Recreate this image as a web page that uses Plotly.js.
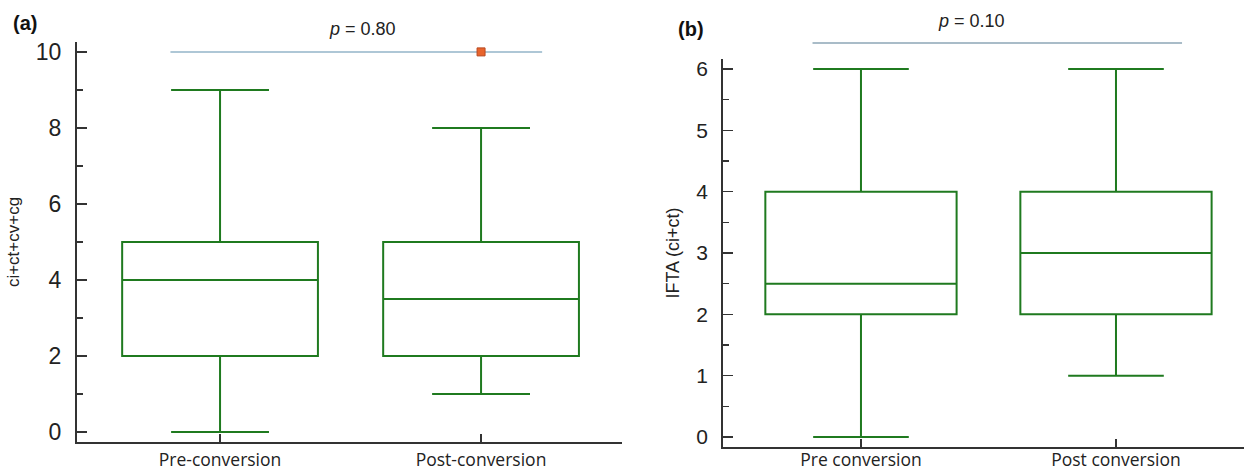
<!DOCTYPE html>
<html>
<head>
<meta charset="utf-8">
<script src="https://cdn.plot.ly/plotly-3.0.1.min.js"></script>
<style>html,body{margin:0;padding:0;background:#fff;}#chart{width:1244px;height:471px;}</style>
</head>
<body>
<div id="chart"></div>
<script>
// Panel (a): ci+ct+cv+cg
const catsA = ['Pre-conversion', 'Post-conversion'];
const minA = [0, 1];
const q1A = [2, 2];
const medA = [4, 3.5];
const q3A = [5, 5];
const maxA = [9, 8];
const outlierCatA = ['Post-conversion'];
const outlierValA = [10];
const pTextA = '<i>p</i> = 0.80';

// Panel (b): IFTA (ci+ct)
const catsB = ['Pre conversion', 'Post conversion'];
const minB = [0, 1];
const q1B = [2, 2];
const medB = [2.5, 3];
const q3B = [4, 4];
const maxB = [6, 6];
const pTextB = '<i>p</i> = 0.10';

const green = '#1f7a1f';
const axisCol = '#333333';
const sans = 'Liberation Sans, Arial, sans-serif';

const boxBase = {
  type: 'box', boxpoints: false, width: 0.75, whiskerwidth: 0.5,
  line: {color: green, width: 2}, fillcolor: 'rgba(0,0,0,0)',
  showlegend: false, hoverinfo: 'skip'
};

const traces = [
  Object.assign({}, boxBase, {x: catsA, q1: q1A, median: medA, q3: q3A,
    lowerfence: minA, upperfence: maxA, xaxis: 'x', yaxis: 'y'}),
  {type: 'scatter', mode: 'markers', x: outlierCatA, y: outlierValA, xaxis: 'x', yaxis: 'y',
    marker: {symbol: 'square', size: 8, color: '#e8642c', line: {color: '#b84a22', width: 1}},
    showlegend: false, cliponaxis: false, hoverinfo: 'skip'},
  Object.assign({}, boxBase, {x: catsB, q1: q1B, median: medB, q3: q3B,
    lowerfence: minB, upperfence: maxB, xaxis: 'x2', yaxis: 'y2'})
];

const xCommon = {
  type: 'category', showline: true, linecolor: axisCol, linewidth: 2,
  ticks: 'inside', ticklen: 8, tickwidth: 1.5, tickcolor: axisCol,
  showgrid: false, zeroline: false,
  tickfont: {family: 'Open Sans, sans-serif', size: 17.5, color: '#222'}
};
const yCommon = {
  showline: true, linecolor: axisCol, linewidth: 2,
  ticks: 'inside', ticklen: 10, tickwidth: 1.5, tickcolor: axisCol,
  showgrid: false, zeroline: false,
  ticklabelstandoff: 9
};

const layout = {
  width: 1244, height: 471,
  margin: {l: 0, r: 0, t: 0, b: 0},
  paper_bgcolor: '#fff', plot_bgcolor: '#fff',
  showlegend: false,
  xaxis: Object.assign({}, xCommon, {domain: [0.0619, 0.5], range: [-0.548, 1.54], anchor: 'y',
    ticklabelstandoff: 1}),
  yaxis: Object.assign({}, yCommon, {domain: [0.0616, 0.9108], range: [-0.26, 10.26], dtick: 2, tick0: 0,
    tickfont: {family: sans, size: 23, color: '#222'},
    minor: {ticks: 'inside', ticklen: 6, dtick: 1, tick0: 0, tickcolor: axisCol, tickwidth: 1.2},
    anchor: 'x',
    title: {text: 'ci+ct+cv+cg', font: {family: sans, size: 17, color: '#222'}, standoff: 12}}),
  xaxis2: Object.assign({}, xCommon, {domain: [0.5812, 1], range: [-0.541, 1.502], anchor: 'y2',
    ticklabelstandoff: -4}),
  yaxis2: Object.assign({}, yCommon, {domain: [0.051, 0.8747], range: [-0.163, 6.163], dtick: 1, tick0: 0,
    tickfont: {family: sans, size: 21, color: '#222'},
    minor: {ticks: 'inside', ticklen: 6, dtick: 0.5, tick0: 0, tickcolor: axisCol, tickwidth: 1.2},
    anchor: 'x2',
    title: {text: 'IFTA (ci+ct)', font: {family: sans, size: 18, color: '#222'}, standoff: 12}}),
  shapes: [
    {type: 'line', xref: 'x', yref: 'y', x0: -0.19, x1: 1.234, y0: 10, y1: 10,
      line: {color: '#93b4c8', width: 1.5}, layer: 'below'},
    {type: 'line', xref: 'x2', yref: 'paper', x0: -0.19, x1: 1.259, y0: 0.9087, y1: 0.9087,
      line: {color: '#a9bcc8', width: 2}}
  ],
  annotations: [
    {text: '<b>(a)</b>', xref: 'paper', yref: 'paper', x: 0.0201, y: 0.951, xanchor: 'center', yanchor: 'middle',
      showarrow: false, font: {family: sans, size: 20, color: '#111'}},
    {text: '<b>(b)</b>', xref: 'paper', yref: 'paper', x: 0.5555, y: 0.938, xanchor: 'center', yanchor: 'middle',
      showarrow: false, font: {family: sans, size: 20, color: '#111'}},
    {text: pTextA, xref: 'paper', yref: 'paper', x: 0.291, y: 0.938, xanchor: 'center', yanchor: 'middle',
      showarrow: false, font: {family: sans, size: 18, color: '#222'}},
    {text: pTextB, xref: 'paper', yref: 'paper', x: 0.781, y: 0.955, xanchor: 'center', yanchor: 'middle',
      showarrow: false, font: {family: sans, size: 18, color: '#222'}}
  ]
};

Plotly.newPlot('chart', traces, layout, {staticPlot: true, displayModeBar: false});
</script>
</body>
</html>
